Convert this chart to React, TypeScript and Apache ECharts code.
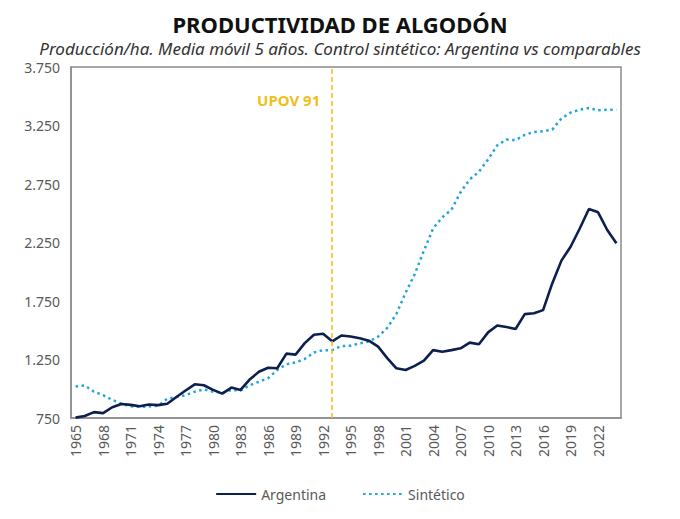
import React, { useEffect, useRef } from 'react';
import * as echarts from 'echarts';

// years 1965..2024
const years: string[] = [];
for (let y = 1965; y <= 2024; y++) years.push(String(y));

const argentina = [
  753, 767, 800, 792, 842, 870, 862, 850, 865, 860,
  872, 930, 985, 1038, 1030, 990, 958, 1010, 990, 1080,
  1145, 1180, 1175, 1300, 1292, 1390, 1462, 1470, 1405, 1455,
  1446, 1432, 1411, 1360, 1262, 1175, 1160, 1195, 1240, 1330,
  1317, 1330, 1346, 1394, 1380, 1482, 1540, 1528, 1511, 1638,
  1645, 1672, 1900, 2095, 2214, 2370, 2536, 2508, 2357, 2243,
];

const sintetico = [
  1020, 1028, 975, 945, 905, 872, 850, 845, 848, 855,
  915, 930, 945, 975, 995, 975, 966, 989, 985, 1030,
  1060, 1090, 1160, 1210, 1225, 1255, 1310, 1330, 1330, 1365,
  1368, 1388, 1405, 1445, 1520, 1640, 1820, 1980, 2180, 2370,
  2465, 2530, 2680, 2790, 2855, 2960, 3080, 3130, 3125, 3170,
  3195, 3200, 3215, 3310, 3360, 3385, 3400, 3380, 3385, 3385,
];

const upovYear = '1993';
const upovLabelValue = 3470;

const FONT = "'Noto Sans', sans-serif";

const fmt = (v: number) => String(v).replace(/\B(?=(\d{3})+(?!\d))/g, '.');

const App: React.FC = () => {
  const chartRef = useRef<HTMLDivElement | null>(null);

  useEffect(() => {
    if (!chartRef.current) return;
    const chart = echarts.init(chartRef.current, undefined, { renderer: 'svg' });

    chart.setOption({
      animation: false,
      textStyle: { fontFamily: FONT },
      title: {
        text: 'PRODUCTIVIDAD DE ALGODÓN',
        subtext: 'Producción/ha. Media móvil 5 años. Control sintético: Argentina vs comparables',
        left: 'center',
        top: 0,
        itemGap: 5,
        textStyle: { fontSize: 22, fontWeight: 'bold', color: '#111', fontFamily: FONT },
        subtextStyle: { fontSize: 17, fontStyle: 'italic', color: '#333', fontFamily: FONT },
      },
      legend: {
        bottom: 5,
        left: 'center',
        itemWidth: 40,
        itemGap: 36,
        itemStyle: { opacity: 0 },
        textStyle: { fontSize: 14, color: '#595959', fontFamily: FONT },
        data: ['Argentina', 'Sintético'],
      },
      grid: {
        left: 63,
        right: 51,
        top: 59,
        bottom: 93,
        show: true,
        borderColor: '#8c8c8c',
        borderWidth: 1.5,
      },
      xAxis: {
        type: 'category',
        data: years,
        boundaryGap: true,
        axisLine: { show: true, lineStyle: { color: '#8c8c8c', width: 1.5 } },
        axisTick: { show: false },
        axisLabel: {
          interval: 2,
          rotate: 90,
          color: '#595959',
          fontSize: 14,
          margin: 7,
          fontFamily: FONT,
        },
      },
      yAxis: {
        type: 'value',
        min: 750,
        max: 3750,
        interval: 500,
        splitLine: { show: false },
        axisLine: { show: true, lineStyle: { color: '#8c8c8c', width: 1.5 } },
        axisTick: { show: false },
        axisLabel: {
          color: '#595959',
          fontSize: 14,
          margin: 11,
          fontFamily: FONT,
          formatter: (v: number) => fmt(v),
        },
      },
      series: [
        {
          name: 'Argentina',
          type: 'line',
          data: argentina,
          symbol: 'none',
          lineStyle: { color: '#0c1f4e', width: 2.6 },
          itemStyle: { color: '#0c1f4e' },
          z: 3,
          markLine: {
            silent: true,
            symbol: 'none',
            label: { show: false },
            lineStyle: { color: '#f0bf1a', type: [5, 3], width: 1.5 },
            data: [{ xAxis: upovYear }],
          },
          markPoint: {
            silent: true,
            symbol: 'circle',
            symbolSize: 0,
            label: {
              show: true,
              position: 'left',
              distance: 12,
              formatter: 'UPOV 91',
              color: '#f0bf1a',
              fontSize: 15,
              fontWeight: 'bold',
              fontFamily: FONT,
            },
            data: [{ coord: [upovYear, upovLabelValue] }],
          },
        },
        {
          name: 'Sintético',
          type: 'line',
          data: sintetico,
          symbol: 'none',
          lineStyle: { color: '#1ea5db', width: 2.5, type: [2.5, 3.5] },
          itemStyle: { color: '#1ea5db' },
          z: 2,
        },
      ],
    });

    const onResize = () => chart.resize();
    window.addEventListener('resize', onResize);
    return () => {
      window.removeEventListener('resize', onResize);
      chart.dispose();
    };
  }, []);

  return <div ref={chartRef} style={{ width: 664, height: 503 }} />;
};

export default App;
